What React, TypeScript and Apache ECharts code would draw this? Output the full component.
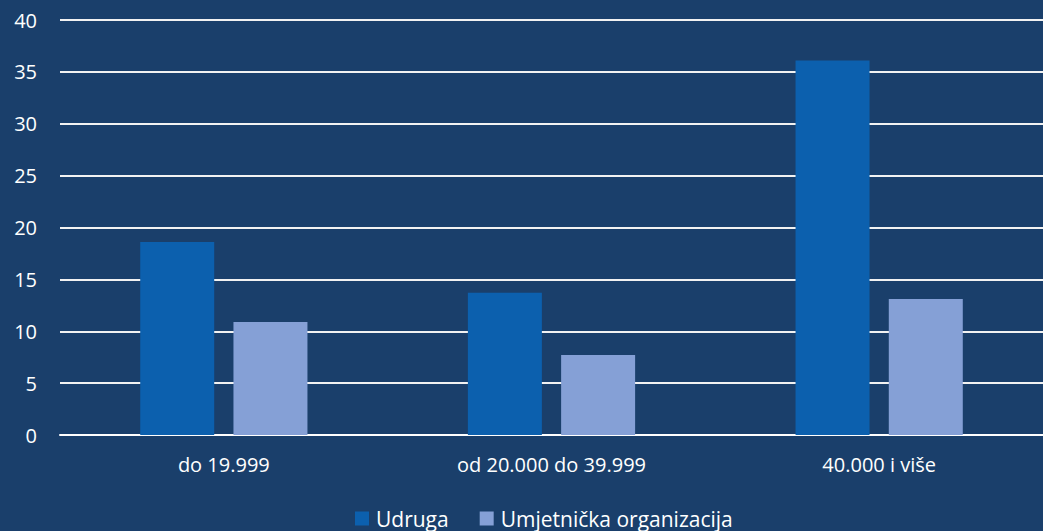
import React, { useEffect, useRef } from "react";
import * as echarts from "echarts";

const categories = ["do 19.999", "od 20.000 do 39.999", "40.000 i više"];
const udruga = [18.6, 13.7, 36.1];
const umjetnicka = [10.9, 7.7, 13.1];
const seriesNames = ["Udruga", "Umjetnička organizacija"];

const FONT = "'Open Sans', 'Noto Sans', sans-serif";

export default function App() {
  const ref = useRef<HTMLDivElement>(null);
  useEffect(() => {
    if (!ref.current) return;
    const chart = echarts.init(ref.current, undefined, { renderer: "svg" });
    chart.setOption({
      animation: false,
      backgroundColor: "#1a3f6b",
      textStyle: { fontFamily: FONT },
      grid: { left: 60, width: 989, top: 20, bottom: 96, containLabel: false },
      legend: {
        data: seriesNames,
        top: 508,
        left: 355,
        padding: 0,
        itemWidth: 14,
        itemHeight: 14,
        itemGap: 31,
        icon: "rect",
        textStyle: { color: "#ffffff", fontSize: 21, fontFamily: FONT, padding: [0, 0, 0, 2] },
      },
      xAxis: {
        type: "category",
        data: categories,
        axisLine: { show: true, lineStyle: { color: "#ffffff", width: 2 } },
        axisTick: { show: false },
        axisLabel: { color: "#ffffff", fontSize: 20, margin: 19, fontFamily: FONT },
      },
      yAxis: {
        type: "value",
        min: 0,
        max: 40,
        interval: 5,
        axisLine: { show: false },
        axisTick: { show: false },
        axisLabel: { color: "#ffffff", fontSize: 20, margin: 23, fontFamily: FONT },
        splitLine: { show: true, lineStyle: { color: "#f2f2f2", width: 2 } },
      },
      series: [
        {
          name: seriesNames[0],
          type: "bar",
          data: udruga,
          barWidth: 74,
          barGap: "26%",
          itemStyle: { color: "#0c60ae" },
        },
        {
          name: seriesNames[1],
          type: "bar",
          data: umjetnicka,
          barWidth: 74,
          itemStyle: { color: "#85a0d6" },
        },
      ],
    });
    return () => chart.dispose();
  }, []);
  return (
    <div
      ref={ref}
      style={{ position: "fixed", left: 0, top: 0, width: 1043, height: 531 }}
    />
  );
}
